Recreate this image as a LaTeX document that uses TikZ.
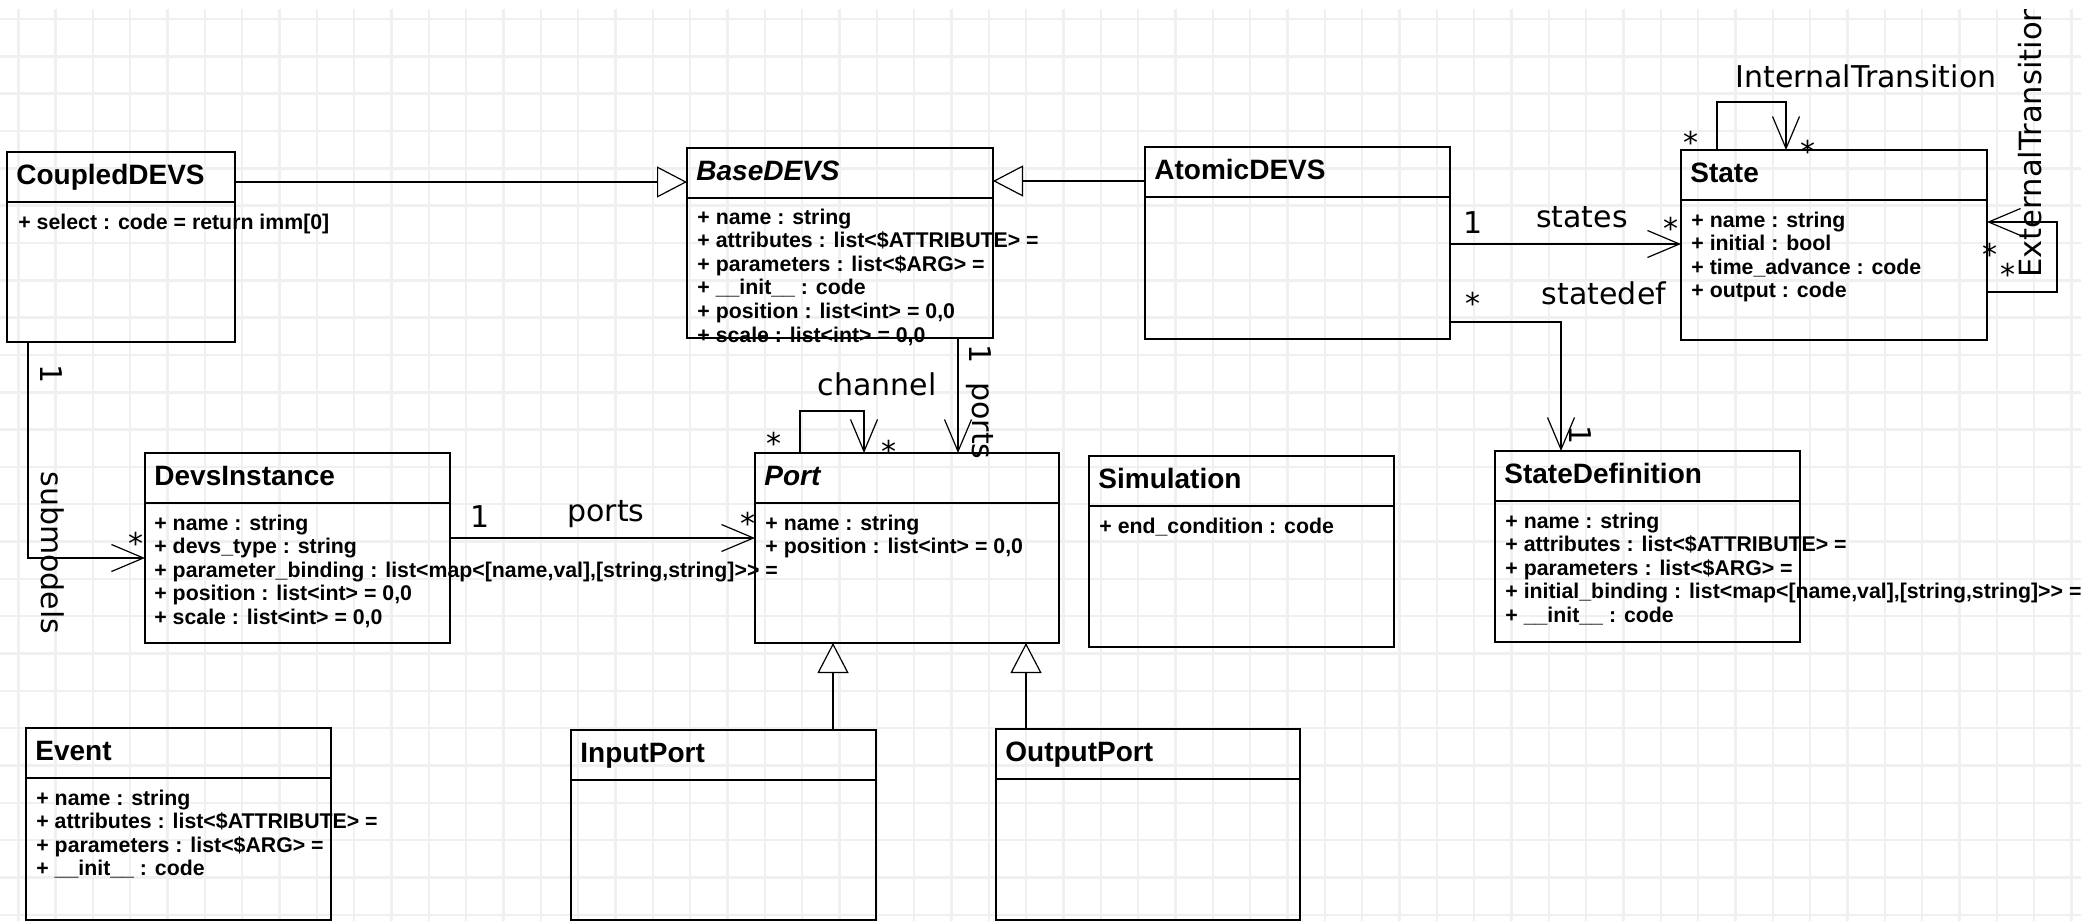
\documentclass[tikz,border=0pt]{standalone}
\usepackage{fontspec}
\setmainfont{Liberation Sans}
\newfontfamily\lblfont{DejaVu Sans}
\usetikzlibrary{arrows.meta,calc}

\tikzset{
 classbox/.style={draw, line width=1.3pt, rectangle, inner sep=0pt, outer sep=0pt, anchor=north west},
 sepline/.style={line width=1.3pt},
 ttl/.style={font=\fontsize{14}{16}\selectfont\bfseries, inner sep=0pt, anchor=base west},
 ttlit/.style={font=\fontsize{14}{16}\selectfont\bfseries\itshape, inner sep=0pt, anchor=base west},
 attr/.style={font=\fontsize{10.65}{11.8}\selectfont\bfseries, inner sep=0pt, anchor=base west},
 lbl/.style={font=\lblfont\fontsize{15}{17}\selectfont, inner sep=0pt},
 gen/.style={line width=1.1pt, -{Triangle[length=15pt,width=15.5pt,fill=white,line width=0.6pt]}},
 assoc/.style={line width=1.1pt, -{Straight Barb[length=16pt,width=13.5pt,line width=0.6pt]}},
 gridline/.style={black!6, line width=1.2pt},
}

\newcommand{\umlclass}[7]{%
  \node[classbox, minimum width=#4*0.5pt, minimum height=#5*0.5pt] (#1) at (#2,#3) {};
  \draw[sepline] ($(#1.north west)+(0,50)$) -- ($(#1.north east)+(0,50)$);
  \node[#6] (#1-t) at ($(#1.north west)+(9,32)$) {#7};
}

\begin{document}
\begin{tikzpicture}[x=0.5pt,y=-0.5pt]
\useasboundingbox (0,0) rectangle (2081,921);
% grid
\foreach \i in {0,...,55} \draw[gridline] ({18.3+\i*37.33},9) -- ({18.3+\i*37.33},921);
\foreach \j in {0,...,24} \draw[gridline] (0,{19+\j*37.33}) -- (2081,{19+\j*37.33});

% classes
\umlclass{cd}{7}{152}{228}{190}{ttl}{CoupledDEVS}
\node[attr] (cd-a) at ($(cd.north west)+(11,77)$) {\vtop{\hbox{+ select : code = return imm[0]}}};

\umlclass{bd}{687}{148}{306}{190}{ttlit}{BaseDEVS}
\node[attr] (bd-a) at ($(bd.north west)+(10,76)$) {\vtop{%
 \hbox{+ name : string}
 \hbox{+ attributes : list<\$ATTRIBUTE> =}
 \hbox{+ parameters : list<\$ARG> =}
 \hbox{+ \_\_init\_\_ : code}
 \hbox{+ position : list<int> = 0,0}
 \hbox{+ scale : list<int> = 0,0}}};

\umlclass{ad}{1145}{147}{305}{192}{ttl}{AtomicDEVS}

\umlclass{st}{1681}{150}{306}{190}{ttl}{State}
\node[attr] (st-a) at ($(st.north west)+(10,77)$) {\vtop{%
 \hbox{+ name : string}
 \hbox{+ initial : bool}
 \hbox{+ time\_advance : code}
 \hbox{+ output : code}}};

\umlclass{di}{145}{453}{305}{190}{ttl}{DevsInstance}
\node[attr] (di-a) at ($(di.north west)+(9,77)$) {\vtop{%
 \hbox{+ name : string}
 \hbox{+ devs\_type : string}
 \hbox{+ parameter\_binding : list<map<[name,val],[string,string]>\kern0pt> =}
 \hbox{+ position : list<int> = 0,0}
 \hbox{+ scale : list<int> = 0,0}}};

\umlclass{pt}{755}{453}{304}{190}{ttlit}{Port}
\node[attr] (pt-a) at ($(pt.north west)+(10,77)$) {\vtop{%
 \hbox{+ name : string}
 \hbox{+ position : list<int> = 0,0}}};

\umlclass{sim}{1089}{456}{305}{191}{ttl}{Simulation}
\node[attr] (sim-a) at ($(sim.north west)+(10,77)$) {\vtop{\hbox{+ end\_condition : code}}};

\umlclass{sd}{1495}{451}{305}{191}{ttl}{StateDefinition}
\node[attr] (sd-a) at ($(sd.north west)+(10,77)$) {\vtop{%
 \hbox{+ name : string}
 \hbox{+ attributes : list<\$ATTRIBUTE> =}
 \hbox{+ parameters : list<\$ARG> =}
 \hbox{+ initial\_binding : list<map<[name,val],[string,string]>\kern0pt> =}
 \hbox{+ \_\_init\_\_ : code}}};

\umlclass{ev}{26}{728}{305}{192}{ttl}{Event}
\node[attr] (ev-a) at ($(ev.north west)+(10,77)$) {\vtop{%
 \hbox{+ name : string}
 \hbox{+ attributes : list<\$ATTRIBUTE> =}
 \hbox{+ parameters : list<\$ARG> =}
 \hbox{+ \_\_init\_\_ : code}}};

\umlclass{ip}{571}{730}{305}{190}{ttl}{InputPort}
\umlclass{op}{996}{729}{304}{191}{ttl}{OutputPort}

% generalizations
\draw[gen] ($(cd.north east)+(0,30)$) -- ($(bd.north west)+(0,34)$);
\draw[gen] ($(ad.north west)+(0,34)$) -- ($(bd.north east)+(0,33)$);
\draw[gen] ($(ip.north west)+(262,0)$) -- ($(pt.south west)+(78,0)$);
\draw[gen] ($(op.north west)+(30,0)$) -- ($(pt.south west)+(271,0)$);

% associations
\draw[assoc] ($(ad.north east)+(0,97)$) -- ($(st.north west)+(0,94)$);
\draw[assoc] ($(ad.north east)+(0,175)$) -| ($(sd.north west)+(66,0)$);
\draw[assoc] ($(cd.south west)+(21,0)$) |- ($(di.south west)+(0,-85)$);
\draw[assoc] ($(di.north east)+(0,85)$) -- ($(pt.north west)+(0,85)$);
\draw[assoc] ($(bd.south west)+(271,0)$) -- ($(pt.north west)+(203,0)$);
\draw[assoc] ($(pt.north west)+(45,0)$) -- ($(pt.north west)+(45,-42)$) -- ($(pt.north west)+(109,-42)$) -- ($(pt.north west)+(109,0)$);
\draw[assoc] ($(st.north west)+(36,0)$) -- ($(st.north west)+(36,-48)$) -- ($(st.north west)+(105,-48)$) -- ($(st.north west)+(105,0)$);
\draw[assoc] ($(st.north east)+(0,142)$) -- ($(st.north east)+(70,142)$) -- ($(st.north east)+(70,72)$) -- ($(st.north east)+(0,72)$);

% role labels
\node[lbl, anchor=base] (l-int) at (1866,87) {InternalTransition};
\node[lbl, anchor=base] (l-states) at (1582,227) {states};
\node[lbl, anchor=base] (l-sdef) at (1604,304) {statedef};
\node[lbl, anchor=base] (l-chan) at (877,395) {channel};
\node[lbl, anchor=base] (l-ports) at (606,521) {ports};
\node[lbl, rotate=-90] (l-sub) at (53,553) {submodels};
\node[lbl, rotate=-90] (l-ports2) at (980,421) {ports};
\begin{scope}
\clip (0,9) rectangle (2081,921);
\node[lbl, rotate=90, anchor=base west, font=\lblfont\fontsize{15.3}{17}\selectfont] (l-ext) at (2041,278) {ExternalTransition};
\end{scope}

% multiplicities
\node[lbl, anchor=base] (m1) at (1473,233) {1};
\node[lbl, anchor=base] (m2) at (480,527) {1};
\node[lbl, rotate=-90] (m3) at (51,374) {1};
\node[lbl, rotate=-90] (m4) at (980,354) {1};
\node[lbl, rotate=-90] (m5) at (1580,435) {1};
\node[lbl, anchor=base] (s1) at (1671,239) {*};
\node[lbl, anchor=base] (s2) at (774,454) {*};
\node[lbl, anchor=base] (s3) at (889,462) {*};
\node[lbl, anchor=base] (s4) at (748,534) {*};
\node[lbl, anchor=base] (s5) at (136,554) {*};
\node[lbl, anchor=base] (s6) at (1691,153) {*};
\node[lbl, anchor=base] (s7) at (1808,162) {*};
\node[lbl, anchor=base] (s8) at (1473,314) {*};
\node[lbl, anchor=base] (s9) at (1990,265) {*};
\node[lbl, anchor=base] (s10) at (2008,285) {*};
\end{tikzpicture}
\end{document}
